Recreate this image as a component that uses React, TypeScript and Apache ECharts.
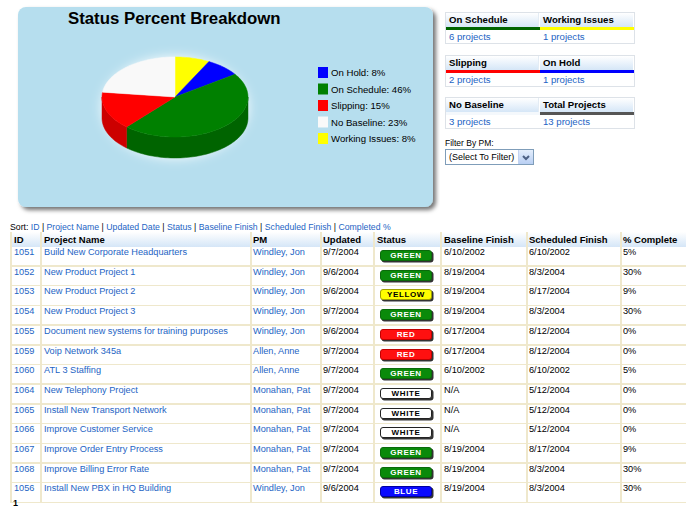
import React, { useEffect, useRef } from "react";
import * as echarts from "echarts";

// ---------- Data ----------
// pie order, clockwise from 12 o'clock
const statusNames = ["Working Issues", "On Hold", "On Schedule", "Slipping", "No Baseline"];
const statusCounts = [1, 1, 6, 2, 3];
const statusColors = ["#ffff00", "#0000ff", "#008000", "#ff0000", "#f9f9f9"];
const sideColors = ["#c9c900", "#0000b0", "#006400", "#cc0000", "#d0d0d0"];
const legendOrder = ["On Hold", "On Schedule", "Slipping", "No Baseline", "Working Issues"];

const cardLabels = ["On Schedule", "Working Issues", "Slipping", "On Hold", "No Baseline", "Total Projects"];
const cardBarColors = ["#006400", "#ffff00", "#ff0000", "#0000ff", "", "#555555"];

const sortLinks = ["ID", "Project Name", "Updated Date", "Status", "Baseline Finish", "Scheduled Finish", "Completed %"];
const columnHeaders = ["ID", "Project Name", "PM", "Updated", "Status", "Baseline Finish", "Scheduled Finish", "% Complete"];

const ids = ["1051", "1052", "1053", "1054", "1055", "1059", "1060", "1064", "1065", "1066", "1067", "1068", "1056"];
const projectNames = [
  "Build New Corporate Headquarters",
  "New Product Project 1",
  "New Product Project 2",
  "New Product Project 3",
  "Document new systems for training purposes",
  "Voip Network 345a",
  "ATL 3 Staffing",
  "New Telephony Project",
  "Install New Transport Network",
  "Improve Customer Service",
  "Improve Order Entry Process",
  "Improve Billing Error Rate",
  "Install New PBX in HQ Building",
];
const pms = [
  "Windley, Jon", "Windley, Jon", "Windley, Jon", "Windley, Jon", "Windley, Jon",
  "Allen, Anne", "Allen, Anne",
  "Monahan, Pat", "Monahan, Pat", "Monahan, Pat", "Monahan, Pat", "Monahan, Pat",
  "Windley, Jon",
];
const updatedDates = ["9/7/2004", "9/6/2004", "9/6/2004", "9/7/2004", "9/6/2004", "9/7/2004", "9/7/2004", "9/7/2004", "9/7/2004", "9/7/2004", "9/7/2004", "9/7/2004", "9/6/2004"];
const statuses = ["GREEN", "GREEN", "YELLOW", "GREEN", "RED", "RED", "GREEN", "WHITE", "WHITE", "WHITE", "GREEN", "GREEN", "BLUE"];
const baselineFinish = ["6/10/2002", "8/19/2004", "8/19/2004", "8/19/2004", "6/17/2004", "6/17/2004", "6/10/2002", "N/A", "N/A", "N/A", "8/19/2004", "8/19/2004", "8/19/2004"];
const scheduledFinish = ["6/10/2002", "8/3/2004", "8/17/2004", "8/3/2004", "8/12/2004", "8/12/2004", "6/10/2002", "5/12/2004", "5/12/2004", "5/12/2004", "8/17/2004", "8/3/2004", "8/3/2004"];
const percentComplete = ["5%", "30%", "9%", "30%", "0%", "0%", "5%", "0%", "0%", "0%", "9%", "30%", "30%"];

// ---------- Derived ----------
const TOTAL = statusCounts.reduce((a, b) => a + b, 0);
const startFracs = statusCounts.map((_, i) => statusCounts.slice(0, i).reduce((a, b) => a + b, 0) / TOTAL);
const pctOf = (name: string) => Math.round((statusCounts[statusNames.indexOf(name)] / TOTAL) * 100);
const countOf = (name: string) => (name === "Total Projects" ? TOTAL : statusCounts[statusNames.indexOf(name)]);

const badgeStyles: Record<string, { bg: string; fg: string; border: string }> = {
  GREEN: { bg: "#0a8a0a", fg: "#ffffff", border: "#0a6a0a" },
  YELLOW: { bg: "#ffff00", fg: "#000000", border: "#a0a000" },
  RED: { bg: "#ff1010", fg: "#ffffff", border: "#c00000" },
  WHITE: { bg: "#ffffff", fg: "#000000", border: "#222222" },
  BLUE: { bg: "#0a0aff", fg: "#ffffff", border: "#0000a0" },
};

// geometry of the 3D pie
const CX = 175, CY = 97, RX = 73, RY = 40, DEPTH = 21;
function arcPts(a0: number, a1: number, dy: number) {
  const n = Math.max(2, Math.ceil(Math.abs(a1 - a0) / (Math.PI / 90)));
  const out: number[][] = [];
  for (let k = 0; k <= n; k++) {
    const t = a0 + ((a1 - a0) * k) / n;
    out.push([CX + RX * Math.sin(t), CY - RY * Math.cos(t) + dy]);
  }
  return out;
}

const LINK = "#2464c4";
const FONT = "'Liberation Sans', Arial, sans-serif";
const colX = [10, 40, 250, 320, 373, 440, 526, 620];
const colText = [14, 44, 253, 323, 377, 444, 529, 623];
const ROW0 = 246.5;
const ROWH = 19.7;
const GRID = "#efe8cc";
const headerBg = "linear-gradient(#ffffff, #d5e6f7)";

function PieChart() {
  const ref = useRef<HTMLDivElement>(null);
  useEffect(() => {
    if (!ref.current) return;
    const chart = echarts.init(ref.current, undefined, { renderer: "svg" });
    chart.setOption({
      animation: false,
      title: {
        text: "Status Percent Breakdown",
        left: 68,
        top: 10,
        padding: 0,
        textStyle: { fontSize: 16.8, fontWeight: "bold", color: "#000", fontFamily: FONT },
      },
      legend: {
        orient: "vertical",
        left: 318,
        top: 67,
        padding: 0,
        itemWidth: 10,
        itemHeight: 11,
        itemGap: 5.5,
        icon: "rect",
        data: legendOrder,
        selectedMode: false,
        formatter: (name: string) => `${name}: ${pctOf(name)}%`,
        textStyle: { fontSize: 9.6, color: "#000", fontFamily: FONT, padding: [0, 0, 0, -2] },
      },
      graphic: [
        {
          type: "rect",
          z: 0,
          shape: { x: 18, y: 7, width: 415, height: 200, r: 8 },
          style: {
            fill: "#b6deee",
            shadowColor: "rgba(0,0,0,0.55)",
            shadowBlur: 4,
            shadowOffsetX: 3,
            shadowOffsetY: 3,
          },
        },
        {
          type: "group",
          z: 1,
          children: [
            {
              type: "ellipse",
              shape: { cx: CX, cy: CY + DEPTH / 2, rx: RX, ry: RY + DEPTH / 2 },
              style: { fill: "#e6f5fb", shadowColor: "rgba(255,255,255,0.95)", shadowBlur: 12 },
            },
          ],
        },
      ],
      series: statusNames.map((name, i) => ({
        type: "custom",
        name,
        coordinateSystem: "none",
        itemStyle: { color: statusColors[i] },
        data: [[statusCounts[i]]],
        renderItem: (_params: any, api: any) => {
          const v = api.value(0) as number;
          const a0 = startFracs[i] * 2 * Math.PI;
          const a1 = a0 + (v / TOTAL) * 2 * Math.PI;
          const children: any[] = [];
          const s0 = Math.max(a0, Math.PI / 2);
          const s1 = Math.min(a1, 1.5 * Math.PI);
          if (s1 > s0) {
            children.push({
              type: "polygon",
              shape: { points: [...arcPts(s0, s1, 0), ...arcPts(s1, s0, DEPTH)] },
              style: { fill: sideColors[i], stroke: sideColors[i], lineWidth: 0.5 },
            });
          }
          children.push({
            type: "polygon",
            shape: { points: [[CX, CY], ...arcPts(a0, a1, 0)] },
            style: { fill: statusColors[i], stroke: statusColors[i], lineWidth: 0.5 },
          });
          return { type: "group", children };
        },
      })),
    });
    return () => chart.dispose();
  }, []);
  return <div ref={ref} style={{ position: "absolute", left: 0, top: 0, width: 440, height: 215 }} />;
}

function Card({ top, idx }: { top: number; idx: number }) {
  const cells = [0, 1].map((k) => {
    const label = cardLabels[idx + k];
    const bar = cardBarColors[idx + k];
    return (
      <div key={k} style={{ position: "absolute", left: k * 94, top: 0, width: 94, height: 30 }}>
        <div
          style={{
            position: "absolute", left: 0, top: 0, width: 93, height: 14, background: headerBg,
            borderRight: k === 0 ? "1px solid #e4ecf4" : "none",
            fontWeight: "bold", fontSize: 9.6, lineHeight: "14px", paddingLeft: 3, boxSizing: "border-box", color: "#000",
          }}
        >
          {label}
        </div>
        <div style={{ position: "absolute", left: 0, top: 14, width: 94, height: 3, background: bar || "#f4f8fc" }} />
        <div style={{ position: "absolute", left: 3, top: 17, fontSize: 9.6, lineHeight: "13px", color: LINK }}>
          {countOf(label)} projects
        </div>
      </div>
    );
  });
  return (
    <div
      style={{
        position: "absolute", left: 445, top, width: 188, height: 30,
        border: "1px solid #dde2e8", background: "#fff", boxSizing: "content-box",
      }}
    >
      {cells}
    </div>
  );
}

export default function App() {
  const cellVals = [ids, projectNames, pms, updatedDates, null, baselineFinish, scheduledFinish, percentComplete];
  const linkCols = [true, true, true, false, false, false, false, false];
  return (
    <div
      style={{
        position: "absolute", left: 0, top: 0, width: 686, height: 510, overflow: "hidden",
        background: "#fff", fontFamily: FONT, color: "#000",
      }}
    >
      <PieChart />
      <Card top={12} idx={0} />
      <Card top={55} idx={2} />
      <Card top={97} idx={4} />
      <div style={{ position: "absolute", left: 445, top: 138, fontSize: 8.5, lineHeight: "11px" }}>Filter By PM:</div>
      <div
        style={{
          position: "absolute", left: 445, top: 149, width: 89, height: 16, border: "1px solid #7f9db9",
          boxSizing: "border-box", background: "#fff", fontSize: 9, lineHeight: "14px", paddingLeft: 3,
        }}
      >
        (Select To Filter)
        <div
          style={{
            position: "absolute", right: 0, top: 0, width: 14, height: 14,
            background: "linear-gradient(#e4eefc, #b9cff3)", borderLeft: "1px solid #c3d3f0",
          }}
        >
          <svg width="14" height="14" style={{ position: "absolute", left: 0, top: 0 }}>
            <polyline points="4,6 7,9 10,6" fill="none" stroke="#4d6185" strokeWidth="2" />
          </svg>
        </div>
      </div>

      {/* sort line */}
      <div style={{ position: "absolute", left: 10, top: 222, fontSize: 8.7, lineHeight: "10px", whiteSpace: "nowrap" }}>
        Sort:{" "}
        {sortLinks.map((s, i) => (
          <span key={s}>
            <span style={{ color: LINK }}>{s}</span>
            {i < sortLinks.length - 1 ? " | " : ""}
          </span>
        ))}
      </div>

      {/* header row */}
      <div style={{ position: "absolute", left: 10, top: 232, width: 676, height: 14.5, background: headerBg }} />
      {columnHeaders.map((h, c) => (
        <div
          key={h}
          style={{
            position: "absolute", left: colText[c], top: 233, fontSize: 9.5, fontWeight: "bold", lineHeight: "13px",
            whiteSpace: "nowrap",
          }}
        >
          {h}
        </div>
      ))}

      {/* grid lines */}
      {ids.map((_, r) => (
        <div
          key={"h" + r}
          style={{ position: "absolute", left: 10, top: ROW0 + (r + 1) * ROWH - 1, width: 676, height: 1.5, background: GRID }}
        />
      ))}
      {colX.map((x, c) => (
        <div
          key={"v" + c}
          style={{ position: "absolute", left: x, top: 232, width: 1.5, height: ROW0 + ids.length * ROWH - 232, background: GRID }}
        />
      ))}

      {/* body */}
      {ids.map((_, r) => {
        const top = ROW0 + r * ROWH;
        const st = badgeStyles[statuses[r]];
        return (
          <React.Fragment key={"r" + r}>
            {cellVals.map((arr, c) =>
              arr ? (
                <div
                  key={c}
                  style={{
                    position: "absolute", left: colText[c], top: top + 0.5, fontSize: 9.2, lineHeight: "11px",
                    whiteSpace: "nowrap", color: linkCols[c] ? LINK : "#000",
                  }}
                >
                  {arr[r]}
                </div>
              ) : null
            )}
            <div
              style={{
                position: "absolute", left: 380, top: top + 3.5, width: 52, height: 11, boxSizing: "border-box",
                background: st.bg, color: st.fg, border: `1px solid ${st.border}`, borderRadius: 3,
                boxShadow: "1.5px 1.5px 0 #333", fontSize: 8, fontWeight: "bold", lineHeight: "9px",
                textAlign: "center", letterSpacing: 0.6,
              }}
            >
              {statuses[r]}
            </div>
          </React.Fragment>
        );
      })}
      <div style={{ position: "absolute", left: 13, top: 498, fontSize: 9, fontWeight: "bold", lineHeight: "11px" }}>1</div>
    </div>
  );
}
